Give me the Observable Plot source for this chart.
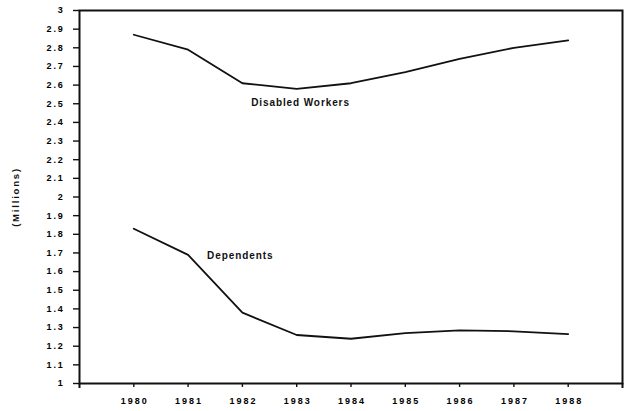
<!DOCTYPE html>
<html>
<head>
<meta charset="utf-8">
<script src="https://cdn.jsdelivr.net/npm/d3@7"></script>
<script src="https://cdn.jsdelivr.net/npm/@observablehq/plot@0.6"></script>
<style>
  html, body { margin: 0; padding: 0; background: #fff; }
  svg { font-family: "Liberation Sans", Arial, sans-serif; }
</style>
</head>
<body>
<div id="chart"></div>
<script>
const years = [1980, 1981, 1982, 1983, 1984, 1985, 1986, 1987, 1988];
const disabledWorkers = [2.87, 2.79, 2.61, 2.58, 2.61, 2.67, 2.74, 2.80, 2.84];
const dependents = [1.83, 1.69, 1.38, 1.26, 1.24, 1.27, 1.285, 1.28, 1.265];
const yTicks = [1, 1.1, 1.2, 1.3, 1.4, 1.5, 1.6, 1.7, 1.8, 1.9, 2, 2.1, 2.2, 2.3, 2.4, 2.5, 2.6, 2.7, 2.8, 2.9, 3];
const seriesNames = ["Disabled Workers", "Dependents"];
const yLabel = "(Millions)";

const rows = [];
years.forEach((yr, i) => {
  rows.push({year: yr, value: disabledWorkers[i], series: seriesNames[0]});
  rows.push({year: yr, value: dependents[i], series: seriesNames[1]});
});

const fmtY = d => String(+d.toFixed(1));

const chart = Plot.plot({
  width: 630,
  height: 411,
  marginLeft: 79,
  marginRight: 8,
  marginTop: 10,
  marginBottom: 28,
  style: {fontFamily: "'Liberation Sans', Arial, sans-serif", background: "#fff"},
  x: {domain: [1979, 1989], label: null},
  y: {domain: [1, 3], label: null},
  marks: [
    Plot.axisX({ticks: years, tickFormat: d => String(d), tickSize: 4, tickPadding: 10, fontSize: 9, fontWeight: "bold", stroke: "#111", strokeWidth: 1.4, label: null}),
    Plot.axisX({ticks: [1979, 1989], tickFormat: () => "", tickSize: 5, stroke: "#111", strokeWidth: 2, label: null}),
    Plot.axisY({ticks: yTicks, tickFormat: fmtY, tickSize: 6, tickPadding: 9, fontSize: 9, fontWeight: "bold", stroke: "#111", strokeWidth: 1.4, label: null}),
    Plot.frame({stroke: "#111", strokeWidth: 2}),
    Plot.line(rows, {x: "year", y: "value", z: "series", stroke: "#111", strokeWidth: 1.8, curve: "linear"}),
    Plot.text([seriesNames[0]], {x: 1983.07, y: 2.507, text: d => d, fontSize: 10, fontWeight: "bold", fill: "#111"}),
    Plot.text([seriesNames[1]], {x: 1981.96, y: 1.686, text: d => d, fontSize: 10, fontWeight: "bold", fill: "#111"}),
    Plot.text([yLabel], {x: 1979, frameAnchor: "left", textAnchor: "middle", dx: -64, rotate: -90, text: d => d, fontSize: 9.5, fontWeight: "bold", fill: "#111", clip: false})
  ]
});

chart.querySelectorAll('[aria-label="x-axis tick label"] text').forEach(t => { t.style.letterSpacing = "2px"; t.setAttribute("dx", "1"); });
chart.querySelectorAll('[aria-label="y-axis tick label"] text').forEach(t => { t.style.letterSpacing = "1.8px"; });
chart.querySelectorAll('[aria-label="text"] text').forEach(t => {
  t.style.letterSpacing = t.textContent === yLabel ? "1.8px" : "0.9px";
});
document.getElementById("chart").appendChild(chart);
</script>
</body>
</html>
